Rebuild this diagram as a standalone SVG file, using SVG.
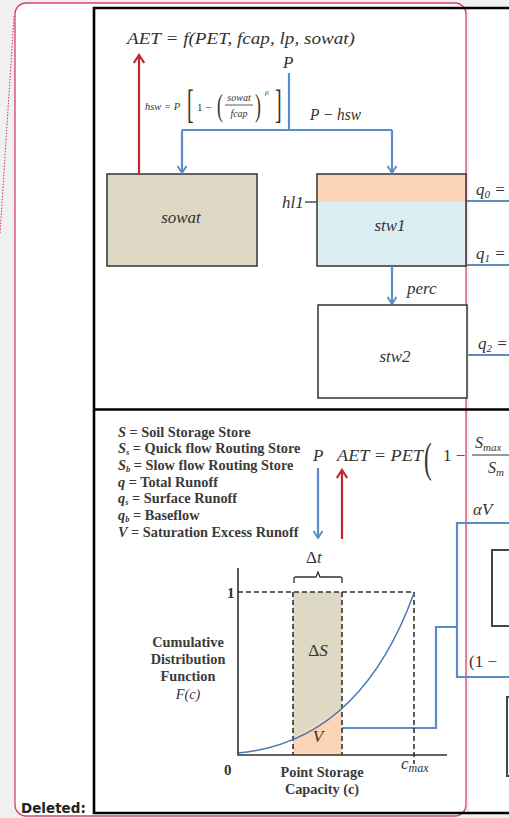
<svg xmlns="http://www.w3.org/2000/svg" width="509" height="818" viewBox="0 0 509 818">
<defs>
<style>
.m{font-family:"Liberation Serif","DejaVu Serif",serif;font-style:italic;fill:#333}
.r{font-family:"Liberation Serif","DejaVu Serif",serif;fill:#333}
.lg{font-family:"Liberation Serif","DejaVu Serif",serif;font-weight:bold;fill:#3a3a3a;font-size:14.3px}
.box{stroke:#333;stroke-width:1.5}
.blue{stroke:#5b8ec9;stroke-width:2.2;fill:none}
.red{stroke:#c0272d;stroke-width:2.2;fill:none}
.frame{stroke:#000;stroke-width:2.6;fill:none}
.dash{stroke:#333;stroke-width:1.6;stroke-dasharray:5,3;fill:none}
</style>
<marker id="ab" markerWidth="10" markerHeight="10" refX="8.5" refY="5" orient="auto" markerUnits="userSpaceOnUse" viewBox="0 0 10 10">
<path d="M1.5,0.5 L8.5,5 L1.5,9.5" fill="none" stroke="#5b8ec9" stroke-width="2"/>
</marker>
<marker id="ar" markerWidth="12" markerHeight="12" refX="10" refY="6" orient="auto" markerUnits="userSpaceOnUse" viewBox="0 0 12 12">
<path d="M2,0.8 L10,6 L2,11.2" fill="none" stroke="#c0272d" stroke-width="2.2"/>
</marker>
</defs>
<rect width="509" height="818" fill="#f0f0f0"/>
<g id="balloon">
<path d="M14,16 L0,234" stroke="#c8365a" stroke-width="1" stroke-dasharray="1.5,1.5" fill="none"/>
<rect x="15" y="3" width="451" height="813" rx="11" fill="#fff" stroke="#d8406a" stroke-width="1.3"/>
<rect x="469" y="8" width="40" height="805" fill="#fff"/>
<text x="21" y="813" font-family="DejaVu Sans,Verdana,sans-serif" font-weight="bold" font-size="13.5" fill="#222">Deleted:</text>
</g>
<g id="frame">
<path class="frame" d="M509,8 L94,8 L94,813 L509,813"/>
<line class="frame" x1="94" y1="409.5" x2="509" y2="409.5"/>
</g>
<g id="boxes">
<g id="sowat">
<rect class="box" x="107" y="174" width="150" height="92" fill="#ddd9c4"/>
<text class="m" x="181" y="223" font-size="17" text-anchor="middle">sowat</text>
</g>
<g id="stw1">
<rect x="317" y="174" width="149" height="28" fill="#fbd5b5"/>
<rect x="317" y="202" width="149" height="64" fill="#dbeef4"/>
<rect class="box" x="317" y="174" width="149" height="92" fill="none"/>
<text class="m" x="390" y="231" font-size="17" text-anchor="middle">stw1</text>
<text class="m" x="282" y="208" font-size="17">hl1</text>
<line x1="305" y1="202" x2="317" y2="202" stroke="#333" stroke-width="1.3"/>
</g>
<g id="stw2">
<rect class="box" x="318" y="305" width="149" height="93" fill="#fff"/>
<text class="m" x="395" y="362" font-size="17" text-anchor="middle">stw2</text>
</g>
<g id="rbox1"><path d="M509,550 L492,550 L492,626 L509,626" stroke="#444" stroke-width="2" fill="none"/></g>
<g id="rbox2"><path d="M509,697 L507,697 L507,776 L509,776" stroke="#444" stroke-width="2" fill="none"/></g>
</g>
<g id="connectors">
<line class="red" x1="139" y1="174" x2="139" y2="55" marker-end="url(#ar)"/>
<path class="blue" d="M289,73 L289,130"/>
<path class="blue" d="M182,130 L392,130"/>
<line class="blue" x1="182" y1="130" x2="182" y2="173" marker-end="url(#ab)"/>
<line class="blue" x1="392" y1="130" x2="392" y2="173" marker-end="url(#ab)"/>
<line class="blue" x1="392" y1="266" x2="392" y2="304" marker-end="url(#ab)"/>
<line class="blue" x1="467" y1="201" x2="509" y2="201"/>
<line class="blue" x1="467" y1="265" x2="509" y2="265"/>
<line class="blue" x1="467" y1="355" x2="509" y2="355"/>
<line class="blue" x1="318" y1="468" x2="318" y2="538" marker-end="url(#ab)"/>
<line class="red" x1="342" y1="539" x2="342" y2="470" marker-end="url(#ar)"/>
<path class="blue" d="M342,728 L436,728 L436,627 L457,627"/>
<path class="blue" d="M509,523 L457,523 L457,677 L509,677"/>
</g>
<g id="labels-top">
<text class="m" x="127" y="44" font-size="17" textLength="228" lengthAdjust="spacingAndGlyphs">AET = f(PET, fcap, lp, sowat)</text>
<text class="m" x="283" y="68" font-size="17">P</text>
<text class="m" x="310" y="120" font-size="17" textLength="51" lengthAdjust="spacingAndGlyphs">P − hsw</text>
<text class="m" x="145" y="110" font-size="10.5">hsw = P</text>
<text class="r" x="187" y="118" font-size="40" transform="translate(187,0) scale(0.5,1) translate(-187,0)">[</text>
<text class="r" x="197" y="111" font-size="11">1 −</text>
<text class="r" x="217" y="116" font-size="32" transform="translate(217,0) scale(0.55,1) translate(-217,0)">(</text>
<text class="m" x="239" y="101" font-size="10" text-anchor="middle">sowat</text>
<line x1="225" y1="105" x2="253" y2="105" stroke="#333" stroke-width="0.8"/>
<text class="m" x="239" y="117" font-size="10" text-anchor="middle">fcap</text>
<text class="r" x="255" y="116" font-size="32" transform="translate(255,0) scale(0.55,1) translate(-255,0)">)</text>
<text class="m" x="265" y="95" font-size="7">β</text>
<text class="r" x="275" y="118" font-size="40" transform="translate(275,0) scale(0.5,1) translate(-275,0)">]</text>
<text class="m" x="407" y="294" font-size="17">perc</text>
<text class="m" x="476" y="195" font-size="17">q<tspan font-size="11" dy="3">0</tspan><tspan dy="-3"> =</tspan></text>
<text class="m" x="476" y="259" font-size="17">q<tspan font-size="11" dy="3">1</tspan><tspan dy="-3"> =</tspan></text>
<text class="m" x="478" y="349" font-size="17">q<tspan font-size="11" dy="3">2</tspan><tspan dy="-3"> =</tspan></text>
</g>
<g id="legend">
<text class="lg" x="118" y="437"><tspan font-style="italic">S</tspan> = Soil Storage Store</text>
<text class="lg" x="118" y="453"><tspan font-style="italic">S</tspan><tspan font-style="italic" font-size="8.5" dy="2">s</tspan><tspan dy="-2"> = Quick flow Routing Store</tspan></text>
<text class="lg" x="118" y="470"><tspan font-style="italic">S</tspan><tspan font-style="italic" font-size="8.5" dy="2">b</tspan><tspan dy="-2"> = Slow flow Routing Store</tspan></text>
<text class="lg" x="118" y="487"><tspan font-style="italic">q</tspan> = Total Runoff</text>
<text class="lg" x="118" y="503"><tspan font-style="italic">q</tspan><tspan font-style="italic" font-size="8.5" dy="2">s</tspan><tspan dy="-2"> =  Surface Runoff</tspan></text>
<text class="lg" x="118" y="520"><tspan font-style="italic">q</tspan><tspan font-style="italic" font-size="8.5" dy="2">b</tspan><tspan dy="-2"> = Baseflow</tspan></text>
<text class="lg" x="118" y="537"><tspan font-style="italic">V</tspan> = Saturation Excess Runoff</text>
</g>
<g id="labels-bottom">
<text class="m" x="313" y="461" font-size="17">P</text>
<text class="m" x="337" y="461" font-size="17" textLength="86" lengthAdjust="spacingAndGlyphs">AET = PET</text>
<text class="r" x="424" y="472" font-size="42" transform="translate(424,0) scale(0.55,1) translate(-424,0)">(</text>
<text class="r" x="443" y="461" font-size="17">1 −</text>
<text class="m" x="475" y="448" font-size="16">S<tspan font-size="11" dy="3">max</tspan></text>
<line x1="472" y1="455" x2="509" y2="455" stroke="#333" stroke-width="1"/>
<text class="m" x="488" y="473" font-size="16">S<tspan font-size="11" dy="3">m</tspan></text>
<text class="r" x="306" y="563" font-size="17">Δ<tspan font-style="italic">t</tspan></text>
<text class="m" x="473" y="515" font-size="17">αV</text>
<text class="r" x="469" y="667" font-size="17">(1 −</text>
</g>
<g id="chart">
<path d="M293,592 L342,592 L342,707.5 Q318,724 293,738.5 Z" fill="#ddd9c4"/>
<path d="M293,738.5 Q318,724 342,707.5 L342,755 L293,755 Z" fill="#fbd5b5"/>
<path d="M294,583 L294,579 Q294,577 296,577 L316,577 L318,572 L320,577 L340,577 Q342,577 342,579 L342,583" fill="none" stroke="#333" stroke-width="1.3"/>
<path class="dash" d="M238,592 L414,592"/>
<path class="dash" d="M293,592 L293,755"/>
<path class="dash" d="M342,592 L342,755"/>
<path class="dash" d="M414,592 L414,764"/>
<path d="M238,753 Q360,742 414,593" fill="none" stroke="#4a7ab5" stroke-width="1.5"/>
<path d="M238,568 L238,755 L447,755" fill="none" stroke="#333" stroke-width="1.6"/>
<text class="r" x="227" y="598" font-size="15" font-weight="bold">1</text>
<text class="r" x="224" y="775" font-size="15" font-weight="bold">0</text>
<text class="m" x="318" y="656" font-size="17" text-anchor="middle"><tspan font-style="normal">Δ</tspan>S</text>
<text class="m" x="318" y="742" font-size="17" text-anchor="middle">V</text>
<text class="m" x="401" y="769" font-size="17">c<tspan font-size="12" dy="3">max</tspan></text>
<g class="lg" text-anchor="middle" fill="#444">
<text x="188" y="647">Cumulative</text>
<text x="188" y="664">Distribution</text>
<text x="188" y="681">Function</text>
<text x="188" y="699" font-weight="normal" font-style="italic">F(c)</text>
<text x="322" y="777">Point Storage</text>
<text x="322" y="794">Capacity (c)</text>
</g>
</g>
</svg>
